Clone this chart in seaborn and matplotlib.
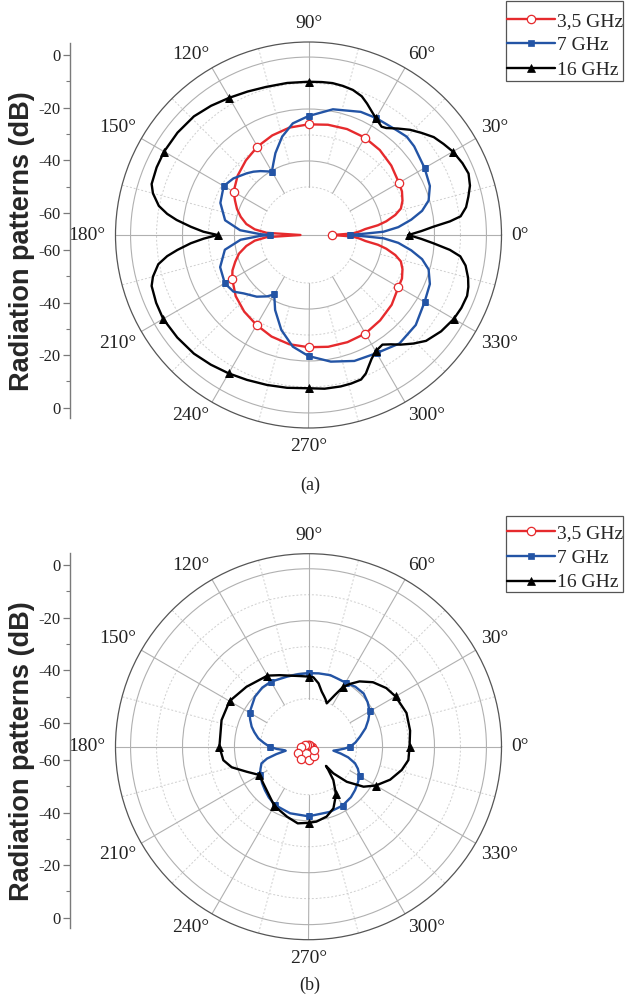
import numpy as np
import matplotlib
matplotlib.use("Agg")
import matplotlib.pyplot as plt
from matplotlib.lines import Line2D
from matplotlib.patches import Rectangle
from matplotlib.ticker import FixedLocator
import seaborn as sns

# ---------------- data (angle in degrees, level in dB) ----------------
series_names = ["3,5 GHz", "7 GHz", "16 GHz"]

# panel (a)
theta_red_a = [0, 2, 4, 6, 8, 10, 13, 16, 20, 25, 30, 40, 50, 60, 70, 80, 90, 100, 110, 120,
               130, 140, 150, 155, 160, 165, 170, 174, 177, 180, 183, 186, 190, 195, 200, 205,
               210, 220, 230, 240, 250, 260, 270, 280, 290, 300, 310, 320, 330, 335, 340, 344,
               347, 350, 352, 354, 356, 358, 360]
db_red_a = [-59.3, -51.5, -48.8, -46.5, -41.5, -38.1, -34.2, -31.5, -30.0, -28.8, -28.3, -26.9,
            -25.8, -25.2, -25.1, -25.4, -25.9, -26.5, -27.7, -29.2, -31.0, -32.9, -35.2, -37.3,
            -39.2, -41.5, -44.2, -47.7, -52.3, -65.4, -52.3, -47.7, -44.2, -40.8, -38.5, -36.2,
            -34.6, -31.9, -30.0, -28.5, -26.9, -25.8, -25.3, -24.8, -24.6, -24.7, -25.6, -26.7,
            -28.5, -28.8, -30.0, -31.5, -34.2, -38.1, -41.5, -46.5, -48.8, -51.5, -59.3]

theta_blue_a = [0, 1.5, 2.5, 5, 8.5, 12, 16, 22, 30, 40, 45, 50, 60, 67, 79, 90, 98, 105, 112, 116,
                120, 123, 127, 131, 135, 143, 150, 160, 170, 176, 179, 180, 181, 184, 190, 200,
                210, 217, 222, 230, 236, 240, 246, 254, 262, 270, 280, 290, 300, 310, 320, 330,
                338, 344, 348, 351.5, 355, 357.5, 358.5, 360]
db_blue_a = [-52.7, -46.2, -39.6, -33.8, -28.5, -23.8, -20.4, -18.1, -16.9, -15.4, -15.0, -15.8,
             -16.5, -17.0, -19.2, -22.7, -25.1, -29.3, -34.5, -37.7, -40.3, -39.3, -37.7, -36.2,
             -34.9, -32.3, -30.8, -32.4, -35.9, -42.1, -49.9, -53.7, -50.0, -42.3, -35.8, -32.3,
             -31.3, -32.3, -34.9, -37.5, -40.0, -42.1, -36.9, -30.5, -25.1, -21.9, -19.0, -16.9,
             -16.0, -14.0, -14.6, -16.9, -18.1, -20.4, -23.8, -28.5, -33.8, -39.6, -46.2, -52.7]

theta_black_a = [0, 2, 3.8, 5.5, 7, 10, 13.5, 17, 21, 25, 30, 34, 38, 42, 46, 50, 54, 56, 60, 63,
                 66, 69, 73, 77, 81, 85, 90, 98, 106, 113, 120, 127, 134, 142, 150, 156, 162, 165,
                 169, 171.5, 173.5, 176, 178.2, 180, 182, 184, 186.5, 188.5, 191, 195, 198, 204,
                 210, 218, 226, 233, 240, 247, 254.5, 262, 270, 276, 282, 286, 290, 292.5, 294.5,
                 297, 300, 304, 307, 310, 314, 318, 324, 330, 334.5, 339, 342, 345, 349, 352, 354,
                 356.2, 358, 360]
db_black_a = [-30.0, -25.0, -20.3, -13.8, -9.5, -6.9, -5.2, -3.5, -2.5, -3.1, -4.3, -5.8, -7.3,
              -9.8, -12.2, -15.0, -17.6, -18.2, -16.6, -15.0, -13.1, -11.3, -10.1, -9.6, -9.3,
              -9.4, -9.5, -9.4, -9.2, -8.5, -7.5, -6.2, -5.0, -4.5, -4.3, -4.5, -5.0, -6.5, -9.8,
              -13.5, -17.4, -23.1, -28.0, -33.5, -28.1, -23.1, -17.7, -13.5, -9.6, -6.5, -5.0,
              -4.3, -3.9, -4.4, -5.0, -6.0, -7.0, -7.9, -8.6, -9.1, -9.5, -9.0, -8.9, -9.0, -9.3,
              -10.8, -12.8, -15.0, -16.8, -17.6, -15.8, -13.4, -10.4, -7.6, -5.4, -3.9, -3.3,
              -3.1, -3.8, -4.9, -6.9, -9.5, -13.8, -20.3, -25.0, -30.0]

# panel (b)
theta_red_b = [0, 30, 60, 90, 120, 150, 180, 210, 240, 270, 300, 330, 360]
db_red_b = [-67.2, -67.7, -67.8, -67.8, -67.6, -67.0, -65.7, -64.0, -63.0, -63.2, -64.4, -66.0, -67.2]

theta_blue_b = [0, 5, 11, 18, 24, 30, 37, 44, 52, 60, 67, 73, 82, 90, 98, 107, 120, 128, 137, 150,
                155, 160.6, 165, 170.5, 175, 180, 184, 187, 190, 193, 196, 199.5, 205, 210, 218,
                225, 232, 240, 254.5, 270, 288, 300, 310, 317, 324, 330, 336, 340.4, 345, 348,
                351, 354, 357, 360]
db_blue_b = [-52.5, -50.4, -48.3, -45.4, -43.3, -41.3, -40.0, -39.0, -39.2, -40.0, -40.0, -39.7,
             -40.0, -40.2, -40.3, -40.3, -39.6, -39.6, -40.3, -42.3, -43.7, -45.3, -46.9, -48.9,
             -51.2, -53.5, -56.2, -58.5, -59.6, -55.8, -51.9, -49.3, -48.1, -47.0, -45.8, -44.8,
             -43.7, -42.6, -41.9, -41.7, -42.1, -42.3, -43.1, -44.0, -45.0, -45.8, -47.7, -49.5,
             -52.7, -55.8, -58.8, -56.9, -54.6, -52.5]

theta_black_b = [0, 9, 19, 30, 37, 45, 52, 56.5, 60, 63, 65, 67.2, 70, 73, 76.5, 81, 86, 90, 97,
                 112, 120, 136, 150, 163, 180, 189, 195, 202, 210, 219, 229, 240, 253, 262, 270,
                 276, 284.5, 292, 300, 306.7, 310.4, 312.3, 313, 317.5, 324, 330, 338, 346, 352.4,
                 360]
db_black_b = [-29.6, -28.9, -28.6, -29.8, -31.0, -33.4, -36.6, -39.5, -42.0, -46.2, -48.5, -50.4,
              -49.2, -48.1, -46.7, -43.8, -41.7, -41.5, -41.1, -38.8, -36.9, -35.3, -33.4, -33.5,
              -34.2, -35.3, -37.9, -42.8, -46.7, -46.1, -44.8, -42.2, -40.3, -38.7, -39.2, -39.5,
              -40.7, -42.9, -47.3, -52.5, -56.7, -58.5, -54.5, -48.5, -42.3, -38.6, -34.6, -31.5,
              -29.7, -29.6]

theta_tick_angles = [0, 30, 60, 90, 120, 150, 180, 210, 240, 270, 300, 330]
theta_tick_labels = ["0°", "30°", "60°", "90°", "120°", "150°", "180°", "210°", "240°", "270°",
                     "300°", "330°"]
left_tick_labels = ["0", "-20", "-40", "-60", "-60", "-40", "-20", "0"]
panel_captions = ["(a)", "(b)"]
y_label = "Radiation patterns (dB)"

# ---------------- style ----------------
sns.set_theme(style="white")
plt.rcParams["font.family"] = ["Liberation Serif", "DejaVu Serif"]

W, H = 625, 1008
RAD = 193.0
R_MIN, R_MAX = -68.5, 5.8
PX_PER_DB = RAD / (R_MAX - R_MIN)
COL = {"3,5 GHz": "#e62a2d", "7 GHz": "#2354a5", "16 GHz": "#000000"}
MK = {
    "3,5 GHz": dict(marker="o", ms=6.0, mfc="white", mec=COL["3,5 GHz"], mew=0.9),
    "7 GHz": dict(marker="s", ms=4.9, mfc=COL["7 GHz"], mec=COL["7 GHz"], mew=0.5),
    "16 GHz": dict(marker="^", ms=5.8, mfc="black", mec="black", mew=0.5),
}

fig = plt.figure(figsize=(W / 100, H / 100), dpi=100)


def rect_px(cx, cy, rad):
    return [(cx - rad) / W, 1 - (cy + rad) / H, 2 * rad / W, 2 * rad / H]


def marks(theta, skip=()):
    return [i for i, t in enumerate(theta) if t % 30 == 0 and t < 360 and t not in skip]


def label_align(a):
    if a in (90, 270):
        ha = "center"
    else:
        ha = "left" if (a < 90 or a > 270) else "right"
    if a in (0, 180):
        va = "center"
    else:
        va = "bottom" if a < 180 else "top"
    dist = 203.0 if a % 90 == 0 else 199.0
    return ha, va, dist


def draw_polar(cx, cy, data):
    ax = fig.add_axes(rect_px(cx, cy, RAD), projection="polar")
    ax.set_theta_zero_location("E")
    ax.set_theta_direction(1)
    for a in range(0, 360, 30):
        r0 = R_MIN if a in (0, 180) else -50
        ax.plot(np.deg2rad([a, a]), [r0, R_MAX], color="#b0b0b0", lw=0.8, zorder=1)
    for a in range(15, 360, 30):
        ax.plot(np.deg2rad([a, a]), [-40, R_MAX], color="#cfcfcf", lw=0.7,
                ls=(0, (2, 2)), zorder=1)
    for name, theta, db, skip in data:
        sns.lineplot(x=np.deg2rad(theta), y=db, sort=False, estimator=None, ax=ax,
                     color=COL[name], lw=1.7, markevery=marks(theta, skip), zorder=3,
                     **MK[name])
    ax.set_rlim(R_MIN, R_MAX)
    ax.set_yticks([-40, -20, 0])
    ax.set_yticklabels([])
    ax.yaxis.set_minor_locator(FixedLocator([-50, -30, -10]))
    ax.yaxis.grid(True, which="major", color="#b0b0b0", lw=0.8, ls="-")
    ax.yaxis.grid(True, which="minor", color="#cfcfcf", lw=0.7, ls=(0, (2, 2)))
    ax.set_xticks(np.deg2rad(theta_tick_angles))
    ax.set_xticklabels([])
    ax.xaxis.grid(False)
    ax.tick_params(axis="y", which="both", length=0)
    ax.tick_params(axis="x", length=0)
    for a, lab in zip(theta_tick_angles, theta_tick_labels):
        ha, va, dist = label_align(a)
        ax.text(np.deg2rad(a), R_MIN + dist / PX_PER_DB, lab, ha=ha, va=va, fontsize=14,
                color="#222222", clip_on=False)
    ax.spines["polar"].set_edgecolor("#555555")
    ax.spines["polar"].set_linewidth(0.9)
    ax.set_xlabel("")
    ax.set_ylabel("")
    return ax


def draw_left_axis(top, bottom, zero):
    ax = fig.add_axes([70 / W, 1 - bottom / H, 0.0005, (bottom - top) / H])
    k = 2.633
    ax.set_ylim((bottom - zero) / k, (top - zero) / k)
    ax.set_yticks([0, 20, 40, 60, 74, 94, 114, 134])
    ax.set_yticklabels(left_tick_labels)
    ax.yaxis.set_minor_locator(FixedLocator([10, 30, 50, 84, 104, 124]))
    ax.set_xticks([])
    for s in ("top", "right", "bottom"):
        ax.spines[s].set_visible(False)
    ax.spines["left"].set_color("#7a7a7a")
    ax.spines["left"].set_linewidth(1.0)
    ax.tick_params(axis="y", which="major", direction="out", length=5, width=0.9,
                   color="#7a7a7a", labelsize=12, labelcolor="#222222", pad=2, left=True)
    ax.tick_params(axis="y", which="minor", direction="out", length=3, width=0.8,
                   color="#7a7a7a", left=True)
    ax.patch.set_alpha(0)


def legend(top, bottom, shift):
    handles = [Line2D([], [], color=COL[n], lw=1.7, **MK[n]) for n in series_names]
    fig.legend(handles, series_names, loc="center left",
               bbox_to_anchor=(507 / W, 1 - ((top + bottom) / 2 + shift) / H), frameon=False,
               fontsize=14, handlelength=2.45, handletextpad=0.12, labelspacing=0.36,
               borderpad=0, borderaxespad=0, numpoints=1)
    fig.patches.append(Rectangle((506 / W, 1 - bottom / H), 117 / W, (bottom - top) / H,
                                 transform=fig.transFigure, fill=False,
                                 edgecolor="#555555", lw=0.9))


panels = [
    dict(cy=235, top=43, bottom=418, zero=55, leg=(1, 81, 4.5), cap=485.5,
         data=[("3,5 GHz", theta_red_a, db_red_a, (180,)),
               ("7 GHz", theta_blue_a, db_blue_a, ()),
               ("16 GHz", theta_black_a, db_black_a, ())]),
    dict(cy=746.7, top=553, bottom=928, zero=565, leg=(516, 592, 4.0), cap=985.5,
         data=[("3,5 GHz", theta_red_b, db_red_b, ()),
               ("7 GHz", theta_blue_b, db_blue_b, ()),
               ("16 GHz", theta_black_b, db_black_b, ())]),
]

for p, cap in zip(panels, panel_captions):
    draw_polar(308.5, p["cy"], p["data"])
    draw_left_axis(p["top"], p["bottom"], p["zero"])
    legend(*p["leg"])
    fig.text(22.5 / W, 1 - (p["top"] + p["bottom"] + 22) / 2 / H, y_label, rotation=90,
             ha="center", va="center", fontsize=19.5, fontweight="bold",
             family=["Liberation Sans", "DejaVu Sans"])
    fig.text(310 / W, 1 - p["cap"] / H, cap, ha="center", va="center", fontsize=13,
             color="#222222")

fig.savefig("out.png", dpi=100)
